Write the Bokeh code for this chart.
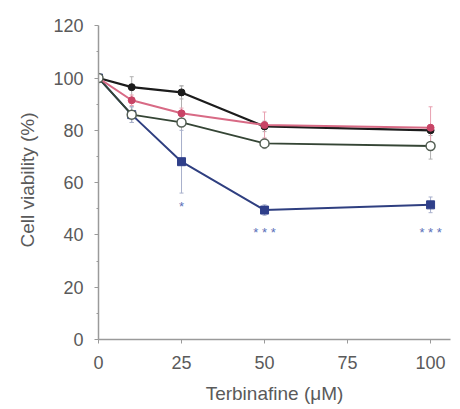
from bokeh.plotting import figure
from bokeh.models import Range1d, FixedTicker
from bokeh.core.properties import value
from bokeh.embed import file_html
from bokeh.resources import INLINE

# Terbinafine concentrations (uM)
conc = [0, 10, 25, 50, 100]

# Mean cell viability (%) for each condition
black_mean = [100, 96.5, 94.5, 81.5, 80.0]
black_err = [0, 4, 2.5, 2, 2]
pink_mean = [100, 91.5, 86.5, 82.0, 81.0]
pink_err = [0, 2, 2, 5, 8]
open_mean = [100, 86.0, 83.0, 75.0, 74.0]
open_err = [0, 3, 14, 2, 5]
blue_mean = [100, 86.0, 68.0, 49.5, 51.5]
blue_err = [0, 3, 12, 2, 3]

# Significance marks for the blue series
sig_x = [25, 50, 100]
sig_y = [51, 41, 41]
sig_text = ["*", "* * *", "* * *"]

x_ticks = [0, 25, 50, 75, 100]
y_ticks = [0, 20, 40, 60, 80, 100, 120]

FONT = "Liberation Sans"
AXIS_GRAY = "#9a9a9a"
TEXT_GRAY = "#5a5a5a"

p = figure(width=460, height=409, output_backend="svg", toolbar_location=None,
           x_range=Range1d(0, 106), y_range=Range1d(0, 122),
           min_border_left=98, min_border_right=10, min_border_top=20,
           min_border_bottom=70)
p.outline_line_color = None
p.grid.visible = False
p.background_fill_color = "white"
p.border_fill_color = "white"

for ax in (p.xaxis[0], p.yaxis[0]):
    ax.axis_line_color = AXIS_GRAY
    ax.axis_line_width = 1.5
    ax.major_tick_line_color = AXIS_GRAY
    ax.minor_tick_line_color = AXIS_GRAY
    ax.major_tick_in = 0
    ax.major_tick_out = 4
    ax.minor_tick_in = 0
    ax.minor_tick_out = 2
    ax.major_label_text_font = FONT
    ax.major_label_text_font_size = "18px"
    ax.major_label_text_color = TEXT_GRAY
    ax.axis_label_text_font = FONT
    ax.axis_label_text_font_size = "19px"
    ax.axis_label_text_font_style = "normal"
    ax.axis_label_text_color = TEXT_GRAY

p.xaxis.ticker = FixedTicker(ticks=x_ticks)
p.xaxis.major_label_standoff = 12
p.xaxis.axis_label = "Terbinafine (\u03bcM)"
p.xaxis.axis_label_standoff = 11

p.yaxis.ticker = FixedTicker(ticks=y_ticks, minor_ticks=[10, 30, 50, 70, 90, 110])
p.yaxis.bounds = (0, 120)
p.yaxis.major_label_standoff = 11
p.yaxis.axis_label = "Cell viability (%)"
p.yaxis.axis_label_standoff = 12


def error_bars(mean, err, color):
    lo = [m - e for m, e in zip(mean, err)]
    hi = [m + e for m, e in zip(mean, err)]
    p.segment(x0=conc, y0=lo, x1=conc, y1=hi, line_color=color, line_width=1)
    p.segment(x0=[c - 0.6 for c in conc], y0=hi, x1=[c + 0.6 for c in conc], y1=hi,
              line_color=color, line_width=1)
    p.segment(x0=[c - 0.6 for c in conc], y0=lo, x1=[c + 0.6 for c in conc], y1=lo,
              line_color=color, line_width=1)


error_bars(black_mean, black_err, "#b0b0b0")
error_bars(open_mean, open_err, "#b0b0b0")
error_bars(blue_mean, blue_err, "#a8b0cc")
error_bars(pink_mean, pink_err, "#e8a0b0")

# Series lines and markers
p.line(conc, black_mean, line_color="#1c1c1c", line_width=2.2)
p.scatter(conc, black_mean, marker="circle", size=7, fill_color="#1c1c1c", line_color="#1c1c1c")

p.line(conc, blue_mean, line_color="#2f3f80", line_width=2)
p.scatter(conc, blue_mean, marker="square", size=8, fill_color="#2f3f8a", line_color="#2f3f8a")

p.line(conc, open_mean, line_color="#354535", line_width=1.8)

p.line(conc, pink_mean, line_color="#d86a85", line_width=2)
p.scatter(conc, pink_mean, marker="circle", size=7, fill_color="#c84466", line_color="#c84466")

p.scatter(conc, open_mean, marker="circle", size=9, fill_color="white", line_color="#556055",
          line_width=1.5)

p.text(x=sig_x, y=sig_y, text=sig_text, text_align="center", text_baseline="middle",
       text_font=value(FONT), text_font_size="13px", text_color="#5a70b8")

open("out.html", "w").write(file_html(p, INLINE))
